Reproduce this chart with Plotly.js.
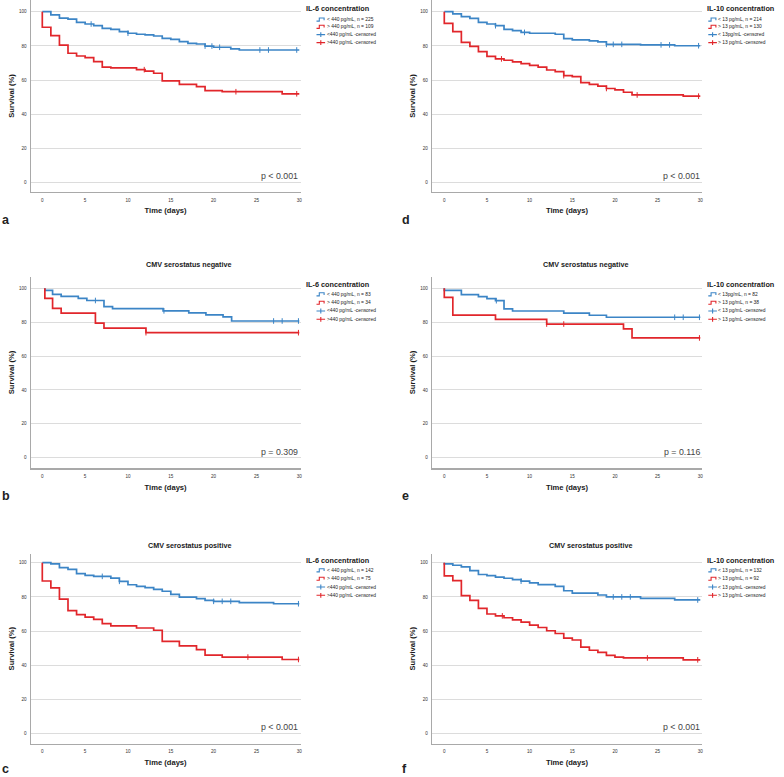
<!DOCTYPE html>
<html><head><meta charset="utf-8">
<script src="https://cdn.plot.ly/plotly-3.0.1.min.js"></script>
<style>html,body{margin:0;padding:0;background:#fff}#chart{width:784px;height:777px}</style>
</head><body><div id="chart"></div>
<script>
// ---------- data ----------
const xTicks = [0, 5, 10, 15, 20, 25, 30];
const yTicks = [0, 20, 40, 60, 80, 100];

// a: IL-6, all patients
const aBlueT = [0,1,2,3,4,5,6,7,8,9,10,11,12,13,14,15,16,17,18,19,20,22,23,30];
const aBlueS = [100,98.1,96.2,95.7,93.8,92.8,91.8,90.3,89.7,88.3,87.4,86.8,86.4,85.8,84.4,83.8,82.5,81.5,81.1,79.9,79.2,78.2,77.6,77.6];
const aBlueCens = [5.7,10,19,19.8,20.7,25.4,26.4,29.7];
const aRedT = [0,0,1,2,3,4,5,6,7,8,11,12,13,14,16,18,19,21,28,30];
const aRedS = [100,90.9,86.0,80.5,75.7,74.1,73.1,70.8,67.6,67.1,66.1,65.3,64.0,59.5,57.5,56.2,53.8,53.2,52.0,52.0];
const aRedCens = [11.9,22.6,29.7];

// d: IL-10, all patients
const dBlueT = [0,1,2,3,4,5,6,7,8,9,10,13,14,15,17,18,19,23,27,30];
const dBlueS = [100,98.7,97.1,96.1,93.8,92.8,91.8,89.7,88.9,87.9,87.4,86.8,84.2,83.5,82.9,82.4,80.9,80.6,80.1,80.1];
const dBlueCens = [6,9.4,19,19.8,20.8,25.4,26.4,29.8];
const dRedT = [0,0,1,2,3,4,5,6,7,8,9,10,11,12,13,14,15,16,17,18,19,20,21,22,28,30];
const dRedS = [100,93.2,88.3,82.1,79.7,76.6,73.9,72.4,71.6,70.6,69.6,68.6,67.6,65.9,64.9,62.6,62.0,58.5,57.5,56.5,55.1,54.3,52.9,51.3,50.6,50.6];
const dRedCens = [6.7,14,19,22.6,29.8];

// b: IL-6, CMV negative
const bBlueT = [0.3,0.3,1.2,2.2,4.2,5.2,7.2,8.2,14.1,17.1,19.1,21.1,22.1,30];
const bBlueS = [100,98.8,96.4,95.2,94.0,92.8,89.2,88.0,86.7,85.5,84.3,83.1,80.7,80.7];
const bBlueCens = [6.2,14.2,27,28,29.9];
const bRedT = [0.3,0.3,1.2,2.2,6.2,7.2,12.1,30];
const bRedS = [100,94.1,88.2,85.3,79.4,76.5,73.8,73.8];
const bRedCens = [12.1,29.9];

// e: IL-10, CMV negative
const eBlueT = [0,0,2,4,5,6,7,8,14,17,19,30];
const eBlueS = [100,98.8,96.3,95.1,93.9,92.7,87.9,86.6,85.4,84.1,82.9,82.9];
const eBlueCens = [6.1,27,28,29.9];
const eRedT = [0,0,1,6,12,21,22,30];
const eRedS = [100,94.7,84.2,81.6,78.9,76.0,70.7,70.7];
const eRedCens = [12,14,29.9];

// c: IL-6, CMV positive
const cBlueT = [0,1,2,3,4,5,6,8,9,10,11,12,13,14,15,16,18,19,20,23,27,30];
const cBlueS = [100,99.3,97.1,96.1,93.6,92.6,92.0,91.0,89.1,87.1,86.2,85.4,84.4,83.3,81.5,79.9,79.0,78.0,77.4,76.7,76.0,76.0];
const cBlueCens = [7,9,20,21,22,29.9];
const cRedT = [0,0,1,2,3,4,5,6,7,8,11,13,14,16,18,19,21,28,30];
const cRedS = [100,89.3,85.3,78.7,72.0,69.6,68.2,66.9,64.4,63.0,61.8,60.5,54.0,51.3,49.2,45.9,44.8,43.4,43.4];
const cRedCens = [24,29.9];

// f: IL-10, CMV positive
const fBlueT = [0,0,1,2,3,4,5,6,7,8,9,10,11,13,14,15,18,19,23,27,30];
const fBlueS = [100,99.3,98.5,97.6,95.4,93.1,92.4,91.6,90.9,90.1,89.2,88.2,87.2,86.2,83.6,82.2,81.1,80.0,79.1,78.2,78.2];
const fBlueCens = [9,19.8,20.8,21.8,29.7];
const fRedT = [0,0,1,2,3,4,5,6,7,8,9,10,11,12,13,14,15,16,17,18,19,20,21,28,30];
const fRedS = [100,92.3,89.5,80.7,78.0,73.3,70.0,68.9,67.8,66.6,65.2,63.5,62.1,60.2,58.6,55.9,54.8,50.6,48.8,47.6,45.8,44.8,44.3,43.2,43.2];
const fRedCens = [6.8,23.8,29.7];

// texts
const il6Title = 'IL-6 concentration';
const il10Title = 'IL-10 concentration';
const aLabels = ['< 440 pg/mL, n = 225', '> 440 pg/mL, n = 109', '<440 pg/mL -censored', '>440 pg/mL -censored'];
const dLabels = ['< 13 pg/mL, n = 214', '> 13 pg/mL, n = 130', '< 13pg/mL -censored', '> 13 pg/mL -censored'];
const bLabels = ['< 440 pg/mL, n = 83', '> 440 pg/mL, n = 34', '<440 pg/mL -censored', '>440 pg/mL -censored'];
const eLabels = ['< 13pg/mL, n = 82', '> 13 pg/mL, n = 38', '< 13 pg/mL -censored', '> 13 pg/mL -censored'];
const cLabels = ['< 440 pg/mL, n = 142', '> 440 pg/mL, n = 75', '<440 pg/mL -censored', '>440 pg/mL -censored'];
const fLabels = ['< 13 pg/mL, n = 132', '> 13 pg/mL, n = 92', '< 13 pg/mL -censored', '> 13 pg/mL -censored'];
const pTexts = {a:'p < 0.001', d:'p < 0.001', b:'p = 0.309', e:'p = 0.116', c:'p < 0.001', f:'p < 0.001'};
const negTitle = 'CMV serostatus negative';
const posTitle = 'CMV serostatus positive';

// ---------- layout helpers ----------
const W = 784, H = 777;
const fx = p => p / W, fy = p => 1 - p / H;
const FONT = '"Liberation Sans", Arial, sans-serif';
const BLUE = '#3c85c6', RED = '#e1262b', AXIS = '#a9a9a9';

const cols = [
  {dom:[30.7,300.5], range:[-1.354,30.14], legTitleX:305, legTextX:325.5, letterX:1, pRight:298.5},
  {dom:[432,702], range:[-1.44,30.2], legTitleX:706, legTextX:717.3, letterX:401, pRight:701}
];
const rows = [
  {dom:[0,192], range:[-5.44,106.84], legTitleY:8, itemY:[19.5,26.8,34.6,42.6], pY:175.7, letterY:219.5, titleY:null},
  {dom:[276.7,468.3], range:[-6.26,106.85], legTitleY:284.3, itemY:[294.3,302.7,311,319.3], pY:451.7, letterY:495.6, titleY:264.3},
  {dom:[553.7,743.7], range:[-5.85,105.26], legTitleY:560.3, itemY:[570.3,578.7,587,595.3], pY:727, letterY:768.5, titleY:545.3}
];

const panels = [
  {key:'a', col:0, row:0, bt:aBlueT, bs:aBlueS, bc:aBlueCens, rt:aRedT, rs:aRedS, rc:aRedCens, leg:il6Title, labels:aLabels, title:null},
  {key:'d', col:1, row:0, bt:dBlueT, bs:dBlueS, bc:dBlueCens, rt:dRedT, rs:dRedS, rc:dRedCens, leg:il10Title, labels:dLabels, title:null},
  {key:'b', col:0, row:1, bt:bBlueT, bs:bBlueS, bc:bBlueCens, rt:bRedT, rs:bRedS, rc:bRedCens, leg:il6Title, labels:bLabels, title:negTitle, titleX:188},
  {key:'e', col:1, row:1, bt:eBlueT, bs:eBlueS, bc:eBlueCens, rt:eRedT, rs:eRedS, rc:eRedCens, leg:il10Title, labels:eLabels, title:negTitle, titleX:585},
  {key:'c', col:0, row:2, bt:cBlueT, bs:cBlueS, bc:cBlueCens, rt:cRedT, rs:cRedS, rc:cRedCens, leg:il6Title, labels:cLabels, title:posTitle, titleX:189},
  {key:'f', col:1, row:2, bt:fBlueT, bs:fBlueS, bc:fBlueCens, rt:fRedT, rs:fRedS, rc:fRedCens, leg:il10Title, labels:fLabels, title:posTitle, titleX:590}
];

function stepAt(t, ts, ss) {
  let v = ss[0];
  for (let i = 0; i < ts.length; i++) if (ts[i] <= t + 1e-9) v = ss[i];
  return v;
}

const traces = [];
const layout = {
  width: W, height: H, margin:{l:0, r:0, t:0, b:0},
  paper_bgcolor:'#ffffff', plot_bgcolor:'#ffffff', showlegend:false,
  font:{family:FONT, color:'#222'}, annotations:[], shapes:[]
};

function ann(text, x, y, opts) {
  layout.annotations.push(Object.assign({text, x:fx(x), y:fy(y), xref:'paper', yref:'paper', showarrow:false,
    xanchor:'left', yanchor:'middle', borderpad:0, font:{family:FONT, size:5, color:'#222'}}, opts || {}));
}

panels.forEach((p, i) => {
  const k = i === 0 ? '' : String(i + 1);
  const c = cols[p.col], r = rows[p.row];
  const xa = 'x' + k, ya = 'y' + k;
  layout['xaxis' + k] = {
    domain:[fx(c.dom[0]), fx(c.dom[1])], range:c.range, anchor:ya,
    tickmode:'array', tickvals:xTicks, ticktext:xTicks.map(String),
    showgrid:false, zeroline:false, showline:true, linecolor:AXIS, linewidth:1.2, ticks:'',
    tickfont:{family:FONT, size:4.6, color:'#333'}, ticklabelstandoff:3,
    title:{text:'Time (days)', font:{family:FONT, size:7.6, weight:700, color:'#1a1a1a'}, standoff:6},
    fixedrange:true
  };
  layout['yaxis' + k] = {
    domain:[fy(r.dom[1]), fy(r.dom[0])], range:r.range, anchor:xa,
    tickmode:'array', tickvals:yTicks, ticktext:yTicks.map(String),
    showgrid:true, gridcolor:'#dcdcdc', gridwidth:1, zeroline:false,
    showline:true, linecolor:AXIS, linewidth:1.2, ticks:'',
    tickfont:{family:FONT, size:4.6, color:'#333'}, ticklabelstandoff:2,
    title:{text:'Survival (%)', font:{family:FONT, size:7.6, weight:700, color:'#1a1a1a'}, standoff:3},
    fixedrange:true
  };
  traces.push({x:p.bt, y:p.bs, xaxis:xa, yaxis:ya, mode:'lines', name:p.labels[0], line:{shape:'hv', color:BLUE, width:1.7}, hoverinfo:'skip'});
  traces.push({x:p.rt, y:p.rs, xaxis:xa, yaxis:ya, mode:'lines', name:p.labels[1], line:{shape:'hv', color:RED, width:1.7}, hoverinfo:'skip'});
  traces.push({x:p.bc, y:p.bc.map(t => stepAt(t, p.bt, p.bs)), xaxis:xa, yaxis:ya, mode:'markers', name:p.labels[2],
    marker:{symbol:'line-ns-open', size:4, color:BLUE, line:{color:BLUE, width:1}}, hoverinfo:'skip'});
  traces.push({x:p.rc, y:p.rc.map(t => stepAt(t, p.rt, p.rs)), xaxis:xa, yaxis:ya, mode:'markers', name:p.labels[3],
    marker:{symbol:'line-ns-open', size:4, color:RED, line:{color:RED, width:1}}, hoverinfo:'skip'});

  // custom legend
  ann(p.leg, c.legTitleX, r.legTitleY, {font:{family:FONT, size:7.3, weight:700, color:'#1a1a1a'}});
  p.labels.forEach((lab, j) => {
    const yc = r.itemY[j];
    ann(lab, c.legTextX, yc, {font:{family:FONT, size:4.9, color:'#222'}});
    const x0 = c.legTextX - 9;
    const col = j % 2 === 0 ? BLUE : RED;
    let path;
    if (j < 2) {
      path = `M${fx(x0)},${fy(yc+1.6)} L${fx(x0+2.8)},${fy(yc+1.6)} L${fx(x0+2.8)},${fy(yc-1.5)} L${fx(x0+7.6)},${fy(yc-1.5)} L${fx(x0+7.6)},${fy(yc+0.8)}`;
    } else {
      path = `M${fx(x0)},${fy(yc)} L${fx(x0+8.6)},${fy(yc)} M${fx(x0+4.3)},${fy(yc-2.4)} L${fx(x0+4.3)},${fy(yc+2.4)}`;
    }
    layout.shapes.push({type:'path', xref:'paper', yref:'paper', path, line:{color:col, width:1.1}});
  });
  // p value
  ann(pTexts[p.key], c.pRight, r.pY, {xanchor:'right', font:{family:FONT, size:8.8, color:'#444'}});
  // panel letter
  ann(p.key, c.letterX, r.letterY, {font:{family:FONT, size:12.5, weight:700, color:'#222'}});
  // panel title
  if (p.title) ann(p.title, p.titleX, r.titleY, {xanchor:'center', font:{family:FONT, size:7.2, weight:700, color:'#1a1a1a'}});
});

Plotly.newPlot('chart', traces, layout, {staticPlot:true, displayModeBar:false});
</script>
</body></html>
